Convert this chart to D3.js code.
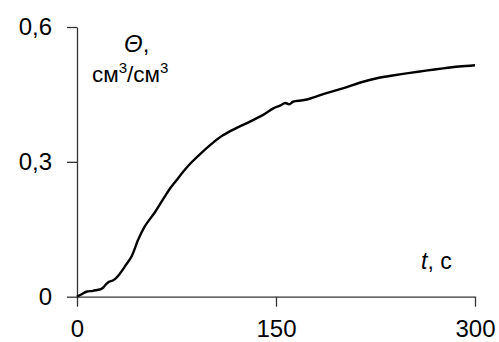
<!DOCTYPE html>
<html><head><meta charset="utf-8">
<script src="https://cdn.jsdelivr.net/npm/d3@7"></script>
<style>
html,body{margin:0;padding:0;background:#fff;}
svg text{font-family:"Liberation Sans",Arial,sans-serif;fill:#000;}
</style></head>
<body>
<svg id="chart" width="499" height="342"></svg>
<script>
const tValues = [0,4,7,12,15,18,20,22,24,27,29,32,36,41,46,51,59,66,70,75,80,86,93,101,110,120,130,140,148,153,157,160,163,170,176,188,201,213,226,238,251,263,276,288,300];
const thetaValues = [0,0.006,0.011,0.013,0.015,0.017,0.021,0.028,0.033,0.036,0.040,0.050,0.067,0.089,0.126,0.156,0.189,0.222,0.240,0.259,0.278,0.298,0.318,0.339,0.359,0.375,0.389,0.404,0.419,0.425,0.431,0.428,0.434,0.437,0.441,0.453,0.464,0.476,0.486,0.492,0.498,0.503,0.508,0.512,0.515];
const xTicks = [0,150,300];
const yTicks = [0,0.3,0.6];
const yTickLabels = ["0","0,3","0,6"];

const svg = d3.select("#chart");
const x = d3.scaleLinear().domain([0,300]).range([77,475]);
const y = d3.scaleLinear().domain([0,0.6]).range([296.7,27]);

const xAxis = svg.append("g").attr("transform","translate(0,296.7)")
  .call(d3.axisBottom(x).tickValues(xTicks).tickSize(10).tickSizeOuter(0).tickPadding(13).tickFormat(d3.format("d")));
const yAxis = svg.append("g").attr("transform","translate(77,0)")
  .call(d3.axisLeft(y).tickValues(yTicks).tickSize(10).tickSizeOuter(0).tickPadding(15).tickFormat((d,i)=>yTickLabels[i]));
[xAxis,yAxis].forEach(g=>{
  g.selectAll("path,line").attr("stroke","#333").attr("stroke-width",1.3);
  g.selectAll("text").attr("font-size",24).attr("fill","#000").attr("font-family","Liberation Sans, Arial, sans-serif");
});

const data = tValues.map((t,i)=>({t, v: thetaValues[i]}));
svg.append("path").datum(data)
  .attr("fill","none").attr("stroke","#000").attr("stroke-width",2.4)
  .attr("stroke-linejoin","round")
  .attr("d", d3.line().x(d=>x(d.t)).y(d=>y(d.v)).curve(d3.curveCatmullRom));

// axis labels
const yl = svg.append("text").attr("x",124).attr("y",52).attr("font-size",24);
yl.append("tspan").attr("font-style","italic").text("Θ");
yl.append("tspan").text(",");
const yl2 = svg.append("text").attr("x",92).attr("y",82).attr("font-size",22.5);
yl2.append("tspan").text("см");
yl2.append("tspan").attr("font-size",15).attr("dy",-9).text("3");
yl2.append("tspan").attr("dy",9).text("/см");
yl2.append("tspan").attr("font-size",15).attr("dy",-9).text("3");

const xl = svg.append("text").attr("x",421).attr("y",269).attr("font-size",23);
xl.append("tspan").attr("font-style","italic").text("t");
xl.append("tspan").text(",  с");
</script>
</body></html>
